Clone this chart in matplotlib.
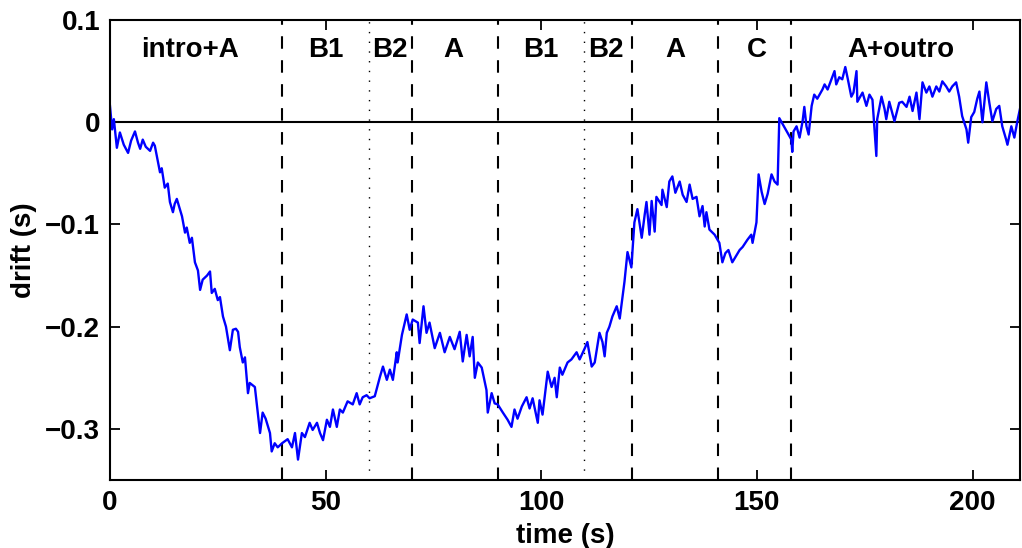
import numpy as np
import matplotlib
matplotlib.use("Agg")
import matplotlib.pyplot as plt

### Drift curve (time in s, drift in s)
timeValues = [
    0.0, 0.5, 0.9, 1.6, 2.3, 3.2, 4.2, 4.9, 5.8, 6.5, 7.0, 7.6, 8.3, 9.3, 10.0,
    10.4, 10.9, 11.6, 12.0, 12.7, 13.4, 13.9, 14.6, 15.0, 15.5, 16.2, 16.7, 17.4,
    17.8, 18.5, 19.0, 19.7, 20.4, 20.9, 21.5, 22.5, 23.2, 23.6, 24.3, 25.0, 25.5,
    26.2, 26.9, 27.8, 28.5, 29.2, 29.7, 30.1, 30.8, 31.3, 32.0, 32.4, 33.6, 34.3,
    34.8, 35.4, 36.1, 37.1, 37.5, 38.2, 38.9, 39.9, 41.2, 42.2,
    42.9, 43.6, 44.5, 45.2, 46.3, 47.0, 48.0, 48.7, 49.4, 50.3, 51.0, 51.7, 52.6,
    53.3, 54.0, 55.1, 56.3, 57.2, 57.9, 58.6, 59.5, 60.2, 61.4, 62.6, 63.3, 64.2,
    64.9, 65.6, 66.5, 66.7, 67.7, 68.8, 69.5, 70.2, 71.4, 71.8, 72.7, 73.4, 74.1,
    75.3, 76.5, 77.6, 78.8, 79.9, 81.1, 81.8, 82.7, 83.4, 84.1, 84.6, 85.3, 86.2,
    87.3, 87.6, 88.5, 89.2, 89.9, 91.1, 92.2, 93.1, 93.8, 94.5, 95.5, 96.6, 97.3,
    98.0, 99.2, 99.6, 100.3, 101.5, 102.4, 103.1, 103.6, 104.3, 104.9, 106.1,
    107.0, 108.2, 108.9, 110.1, 110.7, 111.7, 112.4, 113.5, 114.2, 114.7, 115.2,
    115.8, 116.5, 117.5, 118.2, 119.3, 120.0, 120.9, 121.6, 122.3, 123.3, 124.0,
    124.4, 125.1, 125.6, 126.3, 126.7, 127.9, 128.1, 129.1, 129.7, 130.4, 131.1,
    132.1, 132.8, 133.7, 134.4, 135.1, 136.0, 136.7, 137.4, 137.9, 138.3, 139.0,
    140.2, 141.3, 142.0, 142.7, 143.4, 144.3, 146.0, 146.7, 147.8, 148.7, 149.0,
    149.9, 150.4, 151.1, 151.8, 152.5, 153.4, 154.1, 154.8, 155.2, 158.0, 158.2,
    158.5, 159.2, 159.9, 160.6, 161.0, 161.5, 162.0, 162.7, 163.3, 164.0, 165.2,
    165.7, 166.4, 167.3, 168.0, 168.4, 169.1, 169.8, 170.5, 171.0, 171.9, 172.4,
    173.1, 173.3, 174.5, 175.4, 176.1, 176.8, 177.7, 177.9, 178.9, 179.6, 180.0,
    180.7, 181.9, 183.0, 183.7, 184.7, 185.4, 186.1, 187.0, 187.7, 188.4, 189.3,
    190.0, 190.7, 191.6, 192.3, 193.0, 193.9, 194.6, 195.3, 196.2, 196.9, 197.6,
    198.6, 199.0, 199.7, 200.4, 201.1, 201.6, 202.3, 203.2, 203.9, 204.6, 205.5,
    206.2, 206.9, 207.8, 208.1, 209.0, 209.7, 210.4, 211.1,
]
driftValues = [
    0.016, -0.007, 0.003, -0.025, -0.010, -0.022, -0.030, -0.018, -0.009, -0.020,
    -0.026, -0.017, -0.024, -0.028, -0.020, -0.023, -0.034, -0.049, -0.045, -0.064,
    -0.060, -0.078, -0.088, -0.080, -0.075, -0.085, -0.092, -0.108, -0.103, -0.118,
    -0.113, -0.137, -0.145, -0.164, -0.154, -0.150, -0.146, -0.167, -0.163, -0.174,
    -0.171, -0.190, -0.200, -0.223, -0.203, -0.202, -0.205, -0.220, -0.235, -0.230,
    -0.265, -0.255, -0.259, -0.285, -0.304, -0.284, -0.290, -0.304, -0.322, -0.314,
    -0.318, -0.314, -0.310, -0.318,
    -0.304, -0.330, -0.304, -0.308, -0.294, -0.301, -0.294, -0.304, -0.311, -0.291,
    -0.298, -0.281, -0.298, -0.281, -0.284, -0.273, -0.276, -0.265, -0.276, -0.269,
    -0.267, -0.270, -0.268, -0.249, -0.239, -0.252, -0.242, -0.252, -0.225, -0.235,
    -0.208, -0.188, -0.203, -0.193, -0.196, -0.216, -0.180, -0.206, -0.196, -0.221,
    -0.206, -0.225, -0.210, -0.222, -0.205, -0.234, -0.208, -0.229, -0.210, -0.250,
    -0.235, -0.240, -0.262, -0.284, -0.265, -0.275, -0.276, -0.284, -0.291, -0.298,
    -0.281, -0.290, -0.278, -0.269, -0.280, -0.270, -0.294, -0.272, -0.286, -0.244,
    -0.259, -0.250, -0.269, -0.240, -0.247, -0.235, -0.232, -0.225, -0.232, -0.221,
    -0.215, -0.239, -0.235, -0.206, -0.215, -0.229, -0.206, -0.200, -0.190, -0.180,
    -0.192, -0.156, -0.127, -0.142, -0.098, -0.085, -0.113, -0.090, -0.078, -0.110,
    -0.077, -0.107, -0.073, -0.081, -0.066, -0.083, -0.058, -0.053, -0.069, -0.058,
    -0.071, -0.078, -0.061, -0.075, -0.073, -0.092, -0.082, -0.102, -0.088, -0.105,
    -0.110, -0.118, -0.137, -0.128, -0.125, -0.137, -0.125, -0.122, -0.115, -0.110,
    -0.118, -0.098, -0.051, -0.068, -0.080, -0.070, -0.051, -0.058, -0.061, 0.004,
    -0.017, -0.029, -0.009, -0.004, -0.015, 0.001, 0.015, -0.004, -0.012, 0.016,
    0.027, 0.023, 0.032, 0.037, 0.032, 0.042, 0.050, 0.037, 0.044, 0.042, 0.054,
    0.044, 0.025, 0.029, 0.050, 0.020, 0.029, 0.016, 0.027, 0.022, -0.033, 0.003,
    0.025, 0.013, 0.003, 0.020, 0.001, 0.019, 0.020, 0.015, 0.025, 0.011, 0.029,
    0.003, 0.039, 0.029, 0.035, 0.025, 0.035, 0.030, 0.040, 0.035, 0.030, 0.035,
    0.039, 0.025, 0.006, -0.007, -0.020, 0.005, 0.010, 0.023, 0.030, 0.000, 0.039,
    0.019, 0.001, 0.013, 0.016, -0.004, -0.017, -0.022, -0.004, -0.015, 0.001, 0.015,
]

### Section borders and names
dashedBorders = [40, 70, 90, 121, 141, 158]
dottedBorders = [60, 110]
sectionNames = ["intro+A", "B1", "B2", "A", "B1", "B2", "A", "C", "A+outro"]
sectionCenters = [18.5, 50, 65, 79.5, 100, 115, 131, 150, 183.5]

xTicks = [0, 50, 100, 150, 200]
yTicks = [0.1, 0, -0.1, -0.2, -0.3]
yTickLabels = ["0.1", "0", "\u22120.1", "\u22120.2", "\u22120.3"]

plt.rcParams['font.family'] = ['Liberation Sans', 'DejaVu Sans']
plt.rcParams['font.weight'] = 'bold'
plt.rcParams['font.size'] = 20

window = plt.figure(figsize=(10.22, 5.48), dpi=100)
ax = window.add_axes([0.1076, 0.124, 0.8904, 0.8395])

ax.axhline(0, color='black', linewidth=1.5, zorder=1)
for b in dashedBorders:
    ax.axvline(b, color='black', linewidth=1.5, linestyle=(0, (6, 5.5)), zorder=1)
for b in dottedBorders:
    ax.axvline(b, color='black', linewidth=1.0, linestyle=(0, (1, 6)), zorder=1)

ax.plot(timeValues, driftValues, color='blue', linewidth=1.7, zorder=2)

for name, c in zip(sectionNames, sectionCenters):
    ax.text(c, 0.0705, name, ha='center', va='center', fontsize=20, fontweight='bold')

ax.set_xlim(0, 211)
ax.set_ylim(-0.35, 0.1)
ax.set_xticks(xTicks)
ax.set_yticks(yTicks)
ax.set_yticklabels(yTickLabels)
ax.tick_params(direction='in', length=7, width=1.3, top=True, right=True, pad=7)
for s in ax.spines.values():
    s.set_linewidth(1.5)

ax.set_xlabel("time (s)", fontweight='bold', labelpad=5)
ax.set_ylabel("drift (s)", fontweight='bold', labelpad=6)

window.savefig("out.png", dpi=100)
